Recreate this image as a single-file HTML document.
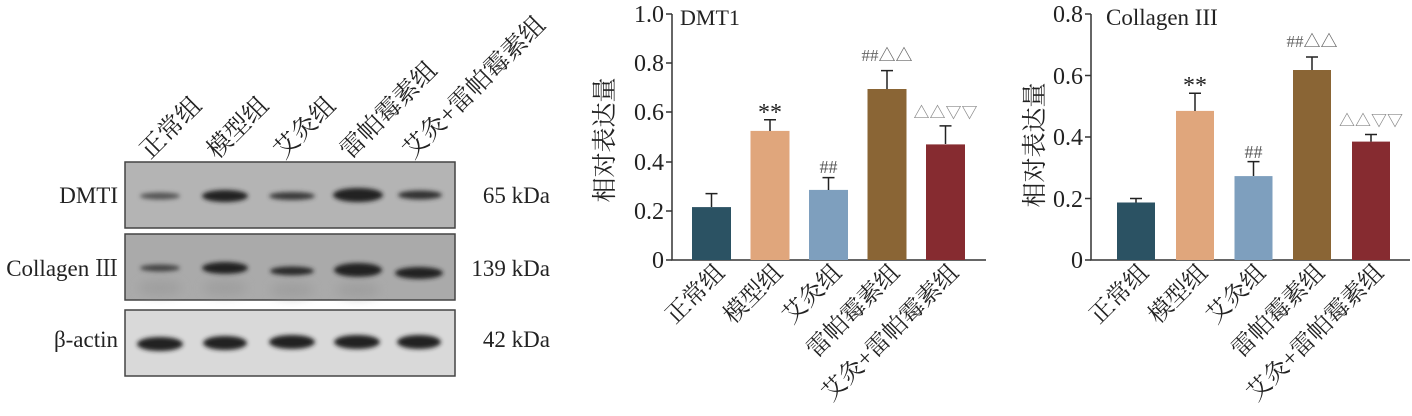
<!DOCTYPE html>
<html><head><meta charset="utf-8"><style>
body{margin:0;background:#fff;width:1412px;height:416px;overflow:hidden}
svg{display:block}
.s{font-family:"Liberation Serif","Noto Serif CJK SC",serif;fill:#222}
.c{font-family:"Liberation Serif","Noto Serif CJK SC","Noto Sans CJK SC",serif;fill:#222}
</style></head><body>
<svg width="1412" height="416" viewBox="0 0 1412 416">
<defs>
<filter id="b" x="-20%" y="-50%" width="140%" height="200%"><feGaussianBlur stdDeviation="2.2"/></filter>
<filter id="b2" x="-20%" y="-50%" width="140%" height="200%"><feGaussianBlur stdDeviation="5"/></filter>
</defs>
<!-- Western blot -->
<g class="c" font-size="25">
<text transform="translate(150,160) rotate(-45)">正常组</text>
<text transform="translate(217,160) rotate(-45)">模型组</text>
<text transform="translate(284,160) rotate(-45)">艾灸组</text>
<text transform="translate(350,160) rotate(-45)">雷帕霉素组</text>
<text transform="translate(413,160) rotate(-45)">艾灸+雷帕霉素组</text>
</g>
<rect x="125" y="162" width="330" height="66" fill="#b4b4b4" stroke="#444" stroke-width="1.5"/>
<rect x="125" y="234" width="330" height="66" fill="#aaaaaa" stroke="#444" stroke-width="1.5"/>
<rect x="125" y="310" width="330" height="66" fill="#d9d9d9" stroke="#444" stroke-width="1.5"/>
<g filter="url(#b)" fill="#222">
<ellipse cx="160" cy="196" rx="20" ry="3.5" fill="#555"/>
<ellipse cx="225" cy="196" rx="23" ry="6"/>
<ellipse cx="292" cy="196" rx="23" ry="4" fill="#3a3a3a"/>
<ellipse cx="358" cy="195" rx="25" ry="7"/>
<ellipse cx="420" cy="195" rx="22" ry="4.5" fill="#333"/>
<ellipse cx="160" cy="268" rx="20" ry="3.5" fill="#444"/>
<ellipse cx="225" cy="268" rx="23" ry="6"/>
<ellipse cx="292" cy="271" rx="22" ry="4.5" fill="#2a2a2a"/>
<ellipse cx="358" cy="270" rx="24" ry="7"/>
<ellipse cx="419" cy="273" rx="24" ry="6"/>
<ellipse cx="160" cy="344" rx="23" ry="7"/>
<ellipse cx="225" cy="343" rx="22" ry="7"/>
<ellipse cx="292" cy="342" rx="23" ry="7"/>
<ellipse cx="357" cy="342" rx="23" ry="7"/>
<ellipse cx="419" cy="342" rx="22" ry="7"/>
</g>
<g filter="url(#b2)" fill="#999" opacity="0.6">
<ellipse cx="160" cy="288" rx="22" ry="8"/><ellipse cx="225" cy="288" rx="22" ry="8"/><ellipse cx="292" cy="290" rx="22" ry="8"/><ellipse cx="358" cy="290" rx="22" ry="8"/>
</g>
<g class="s" font-size="23" text-anchor="end">
<text x="118" y="203">DMTI</text>
<text x="118" y="276">Collagen Ⅲ</text>
<text x="118" y="347">β-actin</text>
<text x="550" y="203">65 kDa</text>
<text x="550" y="276">139 kDa</text>
<text x="550" y="347">42 kDa</text>
</g>

<!-- DMT1 chart -->
<g stroke="#333" stroke-width="1.5" fill="none">
<path d="M672,14V260H986"/>
<path d="M666,14H672M666,63H672M666,112H672M666,162H672M666,211H672M666,260H672"/>
</g>
<g class="s" font-size="24" text-anchor="end">
<text x="664" y="22">1.0</text><text x="664" y="71">0.8</text><text x="664" y="120">0.6</text><text x="664" y="170">0.4</text><text x="664" y="219">0.2</text><text x="664" y="268">0</text>
</g>
<text class="s" x="680" y="25" font-size="22">DMT1</text>
<text class="c" font-size="25" text-anchor="middle" transform="translate(613,140) rotate(-90)">相对表达量</text>
<rect x="692" y="207.1" width="39" height="52.9" fill="#2b5263"/>
<rect x="750.5" y="130.9" width="39" height="129.1" fill="#e0a67c"/>
<rect x="809" y="189.9" width="39" height="70.1" fill="#7e9fbe"/>
<rect x="867.5" y="89" width="39" height="171" fill="#8a6535"/>
<rect x="926" y="144.4" width="39" height="115.6" fill="#862b30"/>
<g stroke="#222" stroke-width="1.5">
<path d="M711.5,207V193.6M705.5,193.6H717.5"/>
<path d="M770,131V119.8M764,119.8H776"/>
<path d="M828.5,190V177.6M822.5,177.6H834.5"/>
<path d="M887,89V70.6M881,70.6H893"/>
<path d="M945.5,144V125.9M939.5,125.9H951.5"/>
</g>
<g class="s" text-anchor="middle">
<text x="770" y="120" font-size="24">**</text>
<text x="828.5" y="173" font-size="18" fill="#555">##</text>
<text x="887" y="61" font-size="17" fill="#666">##△△</text>
<text x="945.5" y="118" font-size="16" fill="#888">△△▽▽</text>
</g>
<g class="c" font-size="24" text-anchor="end">
<text transform="translate(726,274) rotate(-45)">正常组</text>
<text transform="translate(784,274) rotate(-45)">模型组</text>
<text transform="translate(843,274) rotate(-45)">艾灸组</text>
<text transform="translate(901,274) rotate(-45)">雷帕霉素组</text>
<text transform="translate(960,274) rotate(-45)">艾灸+雷帕霉素组</text>
</g>

<!-- Collagen chart -->
<g stroke="#333" stroke-width="1.5" fill="none">
<path d="M1091,14V260H1410"/>
<path d="M1085,14H1091M1085,75.5H1091M1085,137H1091M1085,198.5H1091M1085,260H1091"/>
</g>
<g class="s" font-size="24" text-anchor="end">
<text x="1083" y="22">0.8</text><text x="1083" y="84">0.6</text><text x="1083" y="145">0.4</text><text x="1083" y="207">0.2</text><text x="1083" y="268">0</text>
</g>
<text class="s" x="1106" y="25" font-size="23">Collagen III</text>
<text class="c" font-size="25" text-anchor="middle" transform="translate(1043,145) rotate(-90)">相对表达量</text>
<rect x="1117" y="202.5" width="38" height="57.5" fill="#2b5263"/>
<rect x="1176" y="110.9" width="38" height="149.1" fill="#e0a67c"/>
<rect x="1234.5" y="176.1" width="38" height="83.9" fill="#7e9fbe"/>
<rect x="1293" y="70" width="38" height="190" fill="#8a6535"/>
<rect x="1352" y="141.6" width="38" height="118.4" fill="#862b30"/>
<g stroke="#222" stroke-width="1.5">
<path d="M1136,202.5V198.5M1130,198.5H1142"/>
<path d="M1195,111V93.3M1189,93.3H1201"/>
<path d="M1253.5,176V161.6M1247.5,161.6H1259.5"/>
<path d="M1312,70V57M1306,57H1318"/>
<path d="M1371,141.6V134.5M1365,134.5H1377"/>
</g>
<g class="s" text-anchor="middle">
<text x="1195" y="93" font-size="24">**</text>
<text x="1253.5" y="158" font-size="18" fill="#555">##</text>
<text x="1312" y="47" font-size="17" fill="#666">##△△</text>
<text x="1371" y="126" font-size="16" fill="#888">△△▽▽</text>
</g>
<g class="c" font-size="24" text-anchor="end">
<text transform="translate(1150,274) rotate(-45)">正常组</text>
<text transform="translate(1209,274) rotate(-45)">模型组</text>
<text transform="translate(1267,274) rotate(-45)">艾灸组</text>
<text transform="translate(1326,274) rotate(-45)">雷帕霉素组</text>
<text transform="translate(1385,274) rotate(-45)">艾灸+雷帕霉素组</text>
</g>
</svg>
</body></html>
